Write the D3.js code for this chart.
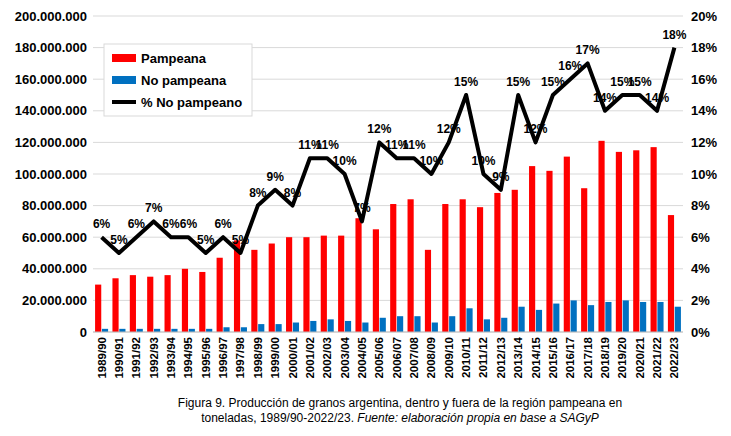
<!DOCTYPE html>
<html><head><meta charset="utf-8">
<script src="https://cdn.jsdelivr.net/npm/d3@7"></script>
<style>body{margin:0;background:#fff;font-family:Arial,"Liberation Sans",sans-serif}</style>
</head><body><svg id="c" width="731" height="436"></svg>
<script>
const seasons = ["1989/90","1990/91","1991/92","1992/93","1993/94","1994/95","1995/96","1996/97","1997/98","1998/99","1999/00","2000/01","2001/02","2002/03","2003/04","2004/05","2005/06","2006/07","2007/08","2008/09","2009/10","2010/11","2011/12","2012/13","2013/14","2014/15","2015/16","2016/17","2017/18","2018/19","2019/20","2020/21","2021/22","2022/23"];
const pampeana = [30,34,36,35,36,40,38,47,58,52,56,60,60,61,61,72,65,81,84,52,81,84,79,88,90,105,102,111,91,121,114,115,117,74].map(v=>v*1e6);
const noPampeana = [2,2,2,2,2,2,2,3,3,5,5,6,7,8,7,6,9,10,10,6,10,15,8,9,16,14,18,20,17,19,20,19,19,16].map(v=>v*1e6);
const pctNoPampeano = [6,5,6,7,6,6,5,6,5,8,9,8,11,11,10,7,12,11,11,10,12,15,10,9,15,12,15,16,17,14,15,15,14,18];
const leftTicks = d3.range(0,200000001,20000000);
const rightTicks = d3.range(0,21,2);

const svg = d3.select("#c");
const L=93,R=683,T=16,B=332;
const x = d3.scaleBand().domain(seasons).range([L,R]).paddingInner(0.25).paddingOuter(0.12);
const y = d3.scaleLinear().domain([0,200000000]).range([B,T]);
const y2 = d3.scaleLinear().domain([0,20]).range([B,T]);
const fmt = v => d3.format(",")(v).replace(/,/g,".");

svg.append("g").selectAll("line").data(leftTicks).join("line")
  .attr("x1",L).attr("x2",R).attr("y1",d=>y(d)).attr("y2",d=>y(d))
  .attr("stroke","#d9d9d9");

const ax = svg.append("g").attr("transform",`translate(${L},0)`).call(d3.axisLeft(y).tickValues(leftTicks).tickFormat(fmt).tickSize(0).tickPadding(6));
ax.select(".domain").remove();
ax.selectAll("text").attr("font-size",13).attr("font-weight",600).attr("font-family","Arial,Liberation Sans").attr("fill","#000");
const ax2 = svg.append("g").attr("transform",`translate(${R},0)`).call(d3.axisRight(y2).tickValues(rightTicks).tickFormat(d=>d+"%").tickSize(0).tickPadding(8));
ax2.select(".domain").remove();
ax2.selectAll("text").attr("font-size",13).attr("font-weight",600).attr("font-family","Arial,Liberation Sans").attr("fill","#000");

const bw = x.bandwidth();
const sub = d3.scaleBand().domain(["p","n"]).range([0,bw]).paddingInner(0.1);
svg.append("g").selectAll("rect").data(seasons).join("rect")
  .attr("x",d=>x(d)+sub("p")).attr("width",sub.bandwidth())
  .attr("y",(d,i)=>y(pampeana[i])).attr("height",(d,i)=>B-y(pampeana[i])).attr("fill","#ff0000");
svg.append("g").selectAll("rect").data(seasons).join("rect")
  .attr("x",d=>x(d)+sub("n")).attr("width",sub.bandwidth())
  .attr("y",(d,i)=>y(noPampeana[i])).attr("height",(d,i)=>B-y(noPampeana[i])).attr("fill","#0070c0");

svg.append("line").attr("x1",L).attr("x2",R).attr("y1",B).attr("y2",B).attr("stroke","#bfbfbf");

const cx = d => x(d)+bw/2;
svg.append("path").datum(seasons)
  .attr("d",d3.line().x(cx).y((d,i)=>y2(pctNoPampeano[i])))
  .attr("fill","none").attr("stroke","#000").attr("stroke-width",4).attr("stroke-linejoin","round");
svg.append("g").selectAll("text").data(seasons).join("text")
  .attr("x",cx).attr("y",(d,i)=>y2(pctNoPampeano[i])-9).attr("text-anchor","middle")
  .attr("font-size",12).attr("font-weight",600).text((d,i)=>pctNoPampeano[i]+"%");

svg.append("g").selectAll("text").data(seasons).join("text")
  .attr("transform",d=>`translate(${cx(d)+4},${B+5}) rotate(-90)`).attr("text-anchor","end")
  .attr("font-size",11.5).attr("font-weight",600).text(d=>d);

const lg = svg.append("g").attr("transform","translate(104,44)");
lg.append("rect").attr("width",148).attr("height",72).attr("fill","#fff").attr("stroke","#d9d9d9");
const items=[["Pampeana","#ff0000","bar"],["No pampeana","#0070c0","bar"],["% No pampeano","#000","line"]];
items.forEach((it,i)=>{
  const yy=14+i*22;
  if(it[2]==="bar") lg.append("rect").attr("x",8).attr("y",yy-4).attr("width",24).attr("height",8).attr("fill",it[1]);
  else lg.append("line").attr("x1",8).attr("x2",32).attr("y1",yy).attr("y2",yy).attr("stroke","#000").attr("stroke-width",4);
  lg.append("text").attr("x",37).attr("y",yy+5).attr("font-size",13).attr("font-weight",600).text(it[0]);
});

const cap = svg.append("text").attr("text-anchor","middle").attr("font-size",12);
cap.append("tspan").attr("x",400).attr("y",407).text("Figura 9. Producción de granos argentina, dentro y fuera de la región pampeana en");
const t2 = cap.append("tspan").attr("x",400).attr("y",422);
t2.text("toneladas, 1989/90-2022/23. ");
cap.append("tspan").attr("font-style","italic").text("Fuente: elaboración propia en base a SAGyP");
</script></body></html>
